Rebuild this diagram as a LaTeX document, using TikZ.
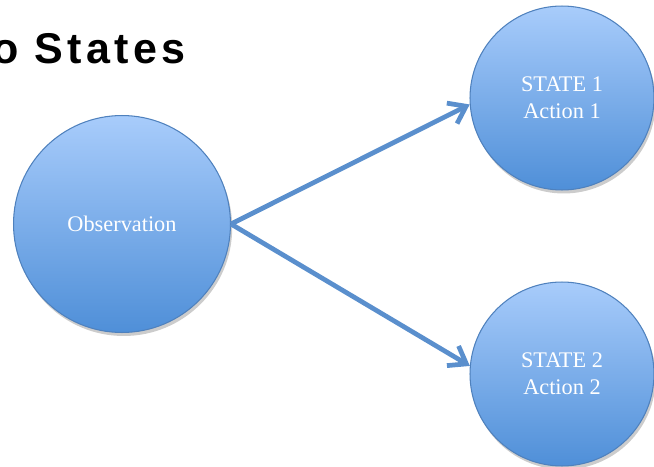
\documentclass[tikz,border=0pt]{standalone}
\usepackage{fontspec}
\setmainfont{Liberation Serif}
\newfontfamily\titlefont[LetterSpace=10]{Liberation Sans}
\usetikzlibrary{positioning,arrows.meta,shadows}

\definecolor{circtop}{HTML}{A8CCFB}
\definecolor{circbot}{HTML}{4F8FD8}
\definecolor{circline}{HTML}{4F81BD}
\definecolor{arrowblue}{HTML}{5A8FCD}

\tikzstyle{arrow} = [arrowblue,line width=2.7pt,-{Straight Barb[length=9pt,width=13pt]}]
\tikzstyle{bubble} = [circle,draw=circline,line width=0.6pt,top color=circtop,bottom color=circbot,text=white,align=center,inner sep=0pt,font=\fontsize{12.7}{15.3}\selectfont,drop shadow={shadow xshift=1pt,shadow yshift=-2pt,opacity=0.2,fill=black}]

\begin{document}
\begin{tikzpicture}[x=0.02cm,y=-0.02cm]
\useasboundingbox (0,0) rectangle (654,467);

\node[anchor=base west,font=\titlefont\bfseries\fontsize{24.5}{28}\selectfont] (title) at (-14,63) {o States};

\node[bubble,minimum size=4.34cm] (obs) at (122,224) {Observation};
\node[bubble,minimum size=3.68cm] (s1) at (562,98) {STATE 1\\Action 1};
\node[bubble,minimum size=3.68cm] (s2) at (562,374) {STATE 2\\Action 2};

\draw[arrow] (obs.east) -- (s1.184);
\draw[arrow] (obs.east) -- (s2.175);
\end{tikzpicture}
\end{document}
